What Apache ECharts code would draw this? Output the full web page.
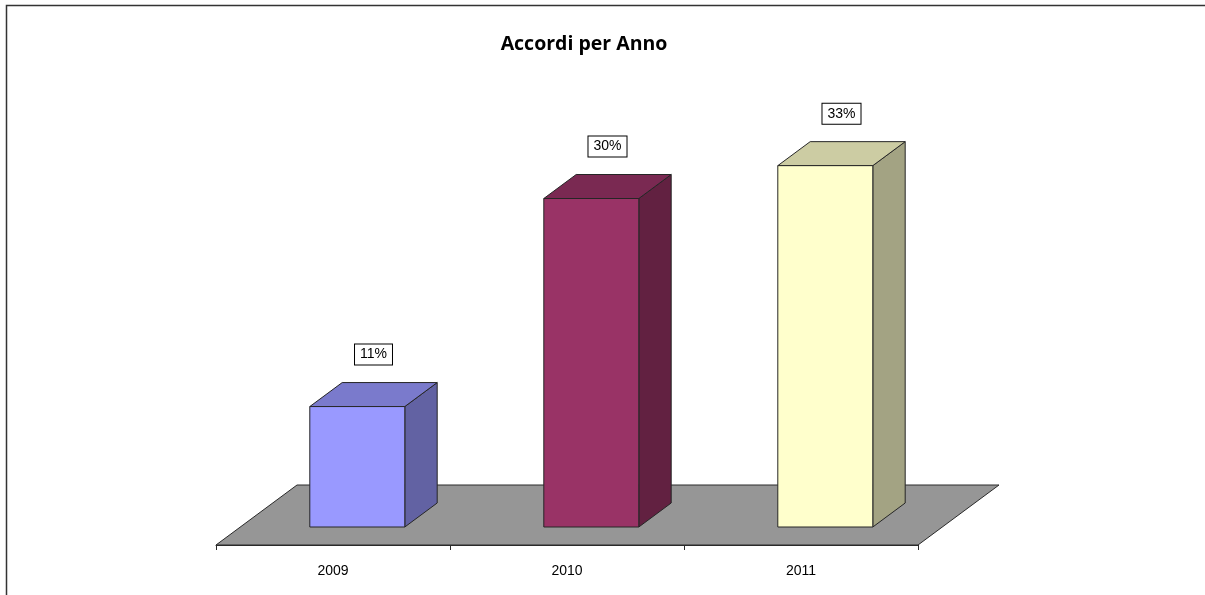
<!DOCTYPE html>
<html>
<head>
<meta charset="utf-8">
<script src="https://cdn.jsdelivr.net/npm/echarts@6/dist/echarts.min.js"></script>
<style>
  html, body { margin: 0; padding: 0; background: #fff; }
  #chart { width: 1205px; height: 595px; }
</style>
</head>
<body>
<div id="chart"></div>
<script>
// dati del grafico
const years = ['2009', '2010', '2011'];
const shares = [11, 30, 33];
const yMax = 40;

// stile 3D (colori e profondità)
const frontColors = ['#9999FF', '#993366', '#FFFFCC'];
const DEPTH = [81, -60];     // spostamento prospettico del pavimento
const BAR_FRONT = 0.3;       // frazione di profondità della faccia anteriore
const BAR_BACK = 0.7;        // frazione di profondità della faccia posteriore
const BAR_W = 0.406;         // larghezza della barra rispetto alla banda

function shade(hex, k) {
  const n = parseInt(hex.slice(1), 16);
  const r = Math.round(((n >> 16) & 255) * k);
  const g = Math.round(((n >> 8) & 255) * k);
  const b = Math.round((n & 255) * k);
  return 'rgb(' + r + ',' + g + ',' + b + ')';
}

const chart = echarts.init(document.getElementById('chart'));

const edge = { stroke: '#262626', lineWidth: 1 };

const option = {
  animation: false,
  backgroundColor: '#fff',
  title: {
    text: 'Accordi per Anno',
    left: 579,
    textAlign: 'center',
    top: 29,
    textStyle: { fontFamily: 'Open Sans', fontWeight: 'bold', fontSize: 19.5, color: '#000' }
  },
  graphic: [{
    type: 'rect',
    shape: { x: 6.5, y: 5.5, width: 1300, height: 700 },
    style: { fill: 'none', stroke: '#333', lineWidth: 1.5 },
    silent: true
  }],
  grid: { left: 216, right: 287, bottom: 50, top: 107 },
  xAxis: {
    type: 'category',
    data: years,
    z: 5,
    axisLine: { show: true, lineStyle: { color: '#2a2a2a', width: 1 } },
    axisTick: { show: true, interval: 0, alignWithLabel: false, length: 5, lineStyle: { color: '#2a2a2a', width: 1 } },
    axisLabel: { fontFamily: 'Liberation Sans', fontSize: 14, color: '#000', margin: 19 }
  },
  yAxis: { type: 'value', min: 0, max: yMax, show: false, splitLine: { show: false } },
  series: [
    {
      // pavimento
      type: 'custom',
      data: [0],
      silent: true,
      z: 1,
      renderItem: function (params, api) {
        const cs = params.coordSys;
        const y0 = cs.y + cs.height;
        return {
          type: 'polygon',
          shape: { points: [
            [cs.x, y0], [cs.x + cs.width, y0],
            [cs.x + cs.width + DEPTH[0], y0 + DEPTH[1]], [cs.x + DEPTH[0], y0 + DEPTH[1]]
          ] },
          style: { fill: '#969696', stroke: '#2a2a2a', lineWidth: 1 }
        };
      }
    },
    {
      type: 'custom',
      data: shares.map((v, i) => [i, v]),
      z: 3,
      renderItem: function (params, api) {
        const i = api.value(0);
        const base = api.coord([i, 0]);
        const top = api.coord([i, api.value(1)]);
        const band = api.size([1, 0])[0];
        const w = band * BAR_W;
        const fx = base[0] - w / 2 + DEPTH[0] * BAR_FRONT;
        const fyB = base[1] + DEPTH[1] * BAR_FRONT;
        const fyT = top[1] + DEPTH[1] * BAR_FRONT;
        const dx = DEPTH[0] * (BAR_BACK - BAR_FRONT);
        const dy = DEPTH[1] * (BAR_BACK - BAR_FRONT);
        const col = frontColors[i];
        return {
          type: 'group',
          children: [
            {
              type: 'polygon',
              shape: { points: [[fx + w, fyB], [fx + w + dx, fyB + dy], [fx + w + dx, fyT + dy], [fx + w, fyT]] },
              style: Object.assign({ fill: shade(col, 0.64) }, edge)
            },
            {
              type: 'polygon',
              shape: { points: [[fx, fyT], [fx + w, fyT], [fx + w + dx, fyT + dy], [fx + dx, fyT + dy]] },
              style: Object.assign({ fill: shade(col, 0.8) }, edge)
            },
            {
              type: 'rect',
              shape: { x: fx, y: fyT, width: w, height: fyB - fyT },
              style: Object.assign({ fill: col }, edge)
            },
            {
              type: 'text',
              x: fx + (w + dx) / 2,
              y: fyT + dy - 18,
              style: {
                text: api.value(1) + '%',
                fontFamily: 'Liberation Sans',
                fontSize: 14,
                fill: '#000',
                align: 'center',
                verticalAlign: 'bottom',
                backgroundColor: '#fff',
                borderColor: '#000',
                borderWidth: 1,
                padding: [3, 5, 3, 5]
              }
            }
          ]
        };
      }
    }
  ]
};

chart.setOption(option);
window.addEventListener('resize', () => chart.resize());
</script>
</body>
</html>
